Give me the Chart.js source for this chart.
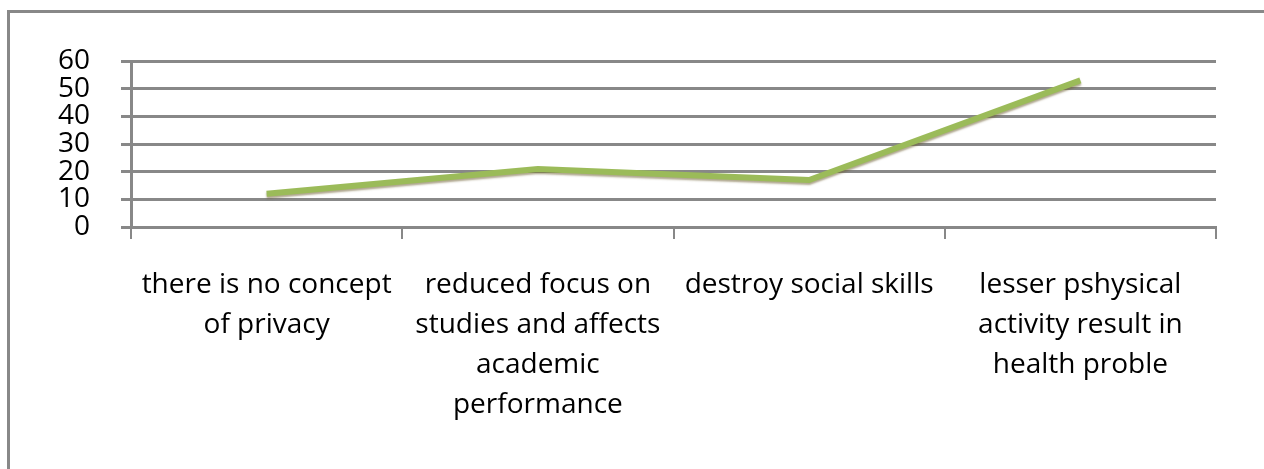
<!DOCTYPE html>
<html>
<head>
<meta charset="utf-8">
<script src="https://cdn.jsdelivr.net/npm/chart.js@4"></script>
<style>
html,body{margin:0;padding:0;background:#fff;}
#wrap{position:relative;width:1264px;height:469px;}
</style>
</head>
<body>
<div id="wrap"><canvas id="c" width="1264" height="469"></canvas></div>
<script>
const categories = [
  ["there is no concept", "of privacy"],
  ["reduced focus on", "studies and affects", "academic", "performance"],
  ["destroy social skills"],
  ["lesser pshysical", "activity result in", "health proble"]
];
const seriesValues = [12, 21, 17, 53];
const yTicks = [0, 10, 20, 30, 40, 50, 60];

const frame = {
  id: 'frame',
  beforeDraw(chart) {
    const ctx = chart.ctx;
    ctx.save();
    ctx.fillStyle = '#fff';
    ctx.fillRect(0, 0, chart.width, chart.height);
    ctx.strokeStyle = '#888';
    ctx.lineWidth = 3;
    ctx.beginPath();
    ctx.moveTo(8.5, 469);
    ctx.lineTo(8.5, 11.5);
    ctx.lineTo(1264, 11.5);
    ctx.stroke();
    ctx.restore();
  }
};
const shadow = {
  id: 'shadow',
  beforeDatasetDraw(chart) {
    const ctx = chart.ctx;
    ctx.save();
    ctx.shadowColor = 'rgba(110,95,50,0.55)';
    ctx.shadowBlur = 2;
    ctx.shadowOffsetY = 2;
  },
  afterDatasetDraw(chart) { chart.ctx.restore(); }
};

new Chart(document.getElementById('c'), {
  type: 'line',
  data: {
    labels: categories,
    datasets: [{
      data: seriesValues,
      borderColor: '#9BBB59',
      borderWidth: 6,
      pointRadius: 0,
      tension: 0,
      fill: false
    }]
  },
  options: {
    responsive: false,
    animation: false,
    events: [],
    layout: { padding: { left: 0, top: 61, right: 48, bottom: 0 } },
    plugins: { legend: { display: false }, tooltip: { enabled: false } },
    scales: {
      x: {
        offset: true,
        grid: { offset: true, drawOnChartArea: false, drawTicks: true, tickLength: 12, color: '#888', lineWidth: 2 },
        border: { display: true, color: '#888', width: 3 },
        ticks: {
          color: '#000',
          font: { family: 'Open Sans', size: 28, lineHeight: 1.43 },
          padding: 26,
          maxRotation: 0,
          autoSkip: false
        },
        afterFit(s) { s.height = 469 - 227; }
      },
      y: {
        min: 0, max: 60,
        afterBuildTicks(s) { s.ticks = yTicks.map(v => ({ value: v })); },
        grid: { color: '#888', lineWidth: 3, tickLength: 10 },
        border: { display: true, color: '#888', width: 3 },
        ticks: {
          color: '#000',
          autoSkip: false,
          font: { family: 'Open Sans', size: 28, lineHeight: 1 },
          padding: 31
        },
        afterFit(s) { s.width = 131; }
      }
    }
  },
  plugins: [frame, shadow]
});
</script>
</body>
</html>
